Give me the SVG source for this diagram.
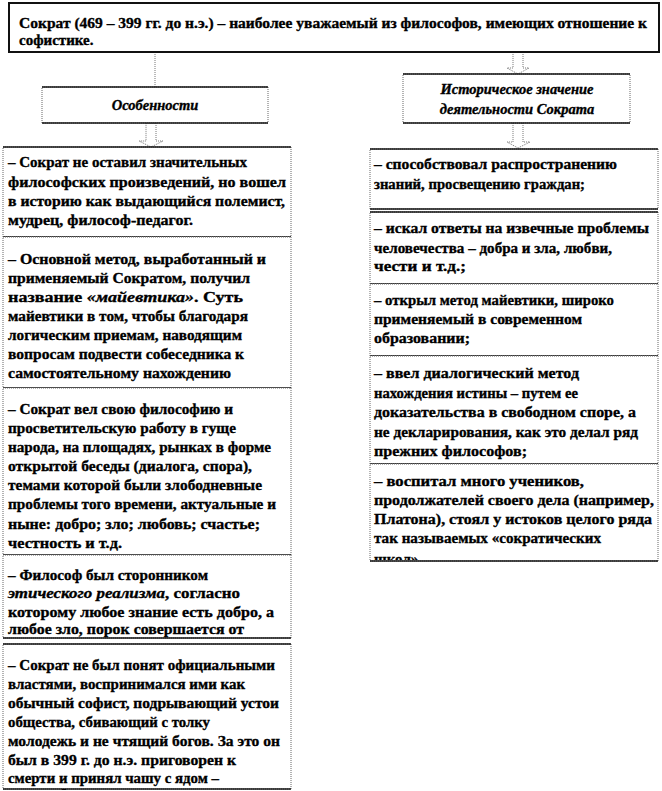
<svg xmlns="http://www.w3.org/2000/svg" width="662" height="791" viewBox="0 0 662 791">
<style>
  text { font-family: "Liberation Serif", "Times New Roman", "DejaVu Serif", serif; font-size: 15px; font-weight: bold; fill: #000; stroke: #000; stroke-width: 0.35; }
  .it { font-style: italic; }
  .hdr { font-style: italic; text-anchor: middle; font-size: 14.5px; }
  .bx { fill: #fff; stroke: #666; stroke-width: 1; stroke-dasharray: 1 1; }
  .hl { stroke: #111; stroke-width: 1.5; }
  .top { fill: #fff; stroke: #111; stroke-width: 2; }
  .arrow { fill: #fff; stroke: #777; stroke-width: 1; stroke-dasharray: 1 1; }
  .conn { stroke: #777; stroke-width: 1; stroke-dasharray: 1 1; fill: none; }
</style>
<defs>
  <clipPath id="clipR5"><rect x="370" y="464" width="288" height="96"/></clipPath>
  <clipPath id="clipL5"><rect x="3" y="644" width="288" height="144"/></clipPath>
</defs>
<rect width="662" height="791" fill="#fff"/>

<g id="connectors">
  <line class="conn" x1="155" y1="52" x2="155" y2="87"/>
  <path class="arrow" d="M513,52 H523 V68 H529 L518,74 L507,68 H513 Z"/>
  <path class="arrow" d="M146,123 H156 V141 H163 L151,147 L139,141 H146 Z"/>
  <path class="arrow" d="M513,123 H523 V142 H530 L518,148 L507,142 H513 Z"/>
</g>

<g id="title">
  <rect class="top" x="9" y="3" width="650" height="49"/>
  <text x="19" y="28" textLength="628" lengthAdjust="spacingAndGlyphs">Сократ  (469 – 399 гг. до н.э.) – наиболее уважаемый из философов, имеющих отношение к</text>
  <text x="19" y="45">софистике.</text>
</g>

<g id="features">
  <rect class="bx" x="42" y="87" width="226" height="36"/>
  <line class="hl" x1="42" y1="87" x2="268" y2="87"/>
  <line class="hl" x1="42" y1="123" x2="268" y2="123"/>
  <text class="hdr" x="155" y="110">Особенности</text>
</g>

<g id="significance">
  <rect class="bx" x="403" y="74" width="227" height="49"/>
  <line class="hl" x1="403" y1="74" x2="630" y2="74"/>
  <line class="hl" x1="403" y1="123" x2="630" y2="123"/>
  <text class="hdr" x="517" y="94">Историческое значение</text>
  <text class="hdr" x="517" y="114">деятельности Сократа</text>
</g>

<g id="left1">
  <rect class="bx" x="3" y="147" width="288" height="90"/>
  <line class="hl" x1="3" y1="147" x2="291" y2="147"/>
  <line class="hl" x1="3" y1="237" x2="291" y2="237"/>
  <text x="8" y="167" textLength="239" lengthAdjust="spacingAndGlyphs">– Сократ не оставил значительных</text>
  <text x="8" y="187" textLength="278" lengthAdjust="spacingAndGlyphs">философских  произведений, но вошел</text>
  <text x="8" y="206" textLength="277" lengthAdjust="spacingAndGlyphs">в историю как выдающийся полемист,</text>
  <text x="8" y="225" textLength="185" lengthAdjust="spacingAndGlyphs">мудрец, философ-педагог.</text>
</g>

<g id="left2">
  <rect class="bx" x="3" y="237" width="288" height="151"/>
  <line class="hl" x1="3" y1="388" x2="291" y2="388"/>
  <text x="8" y="264" textLength="258" lengthAdjust="spacingAndGlyphs">– Основной метод, выработанный и</text>
  <text x="8" y="283" textLength="242" lengthAdjust="spacingAndGlyphs">применяемый Сократом, получил</text>
  <text x="8" y="302" textLength="235" lengthAdjust="spacingAndGlyphs">название <tspan class="it">«майевтика»</tspan>. Суть</text>
  <text x="8" y="321" textLength="240" lengthAdjust="spacingAndGlyphs">майевтики в том, чтобы благодаря</text>
  <text x="8" y="340" textLength="234" lengthAdjust="spacingAndGlyphs">логическим приемам, наводящим</text>
  <text x="8" y="359" textLength="236" lengthAdjust="spacingAndGlyphs">вопросам подвести собеседника к</text>
  <text x="8" y="378" textLength="223" lengthAdjust="spacingAndGlyphs">самостоятельному нахождению</text>
</g>

<g id="left3">
  <rect class="bx" x="3" y="388" width="288" height="167"/>
  <line class="hl" x1="3" y1="555" x2="291" y2="555"/>
  <text x="8" y="414" textLength="225" lengthAdjust="spacingAndGlyphs">– Сократ вел свою философию и</text>
  <text x="8" y="433" textLength="228" lengthAdjust="spacingAndGlyphs">просветительскую работу в гуще</text>
  <text x="8" y="452" textLength="263" lengthAdjust="spacingAndGlyphs">народа, на площадях,  рынках в форме</text>
  <text x="8" y="471" textLength="244" lengthAdjust="spacingAndGlyphs">открытой беседы (диалога, спора),</text>
  <text x="8" y="490" textLength="254" lengthAdjust="spacingAndGlyphs">темами которой были злободневные</text>
  <text x="8" y="509" textLength="268" lengthAdjust="spacingAndGlyphs">проблемы того времени, актуальные  и</text>
  <text x="8" y="529" textLength="252" lengthAdjust="spacingAndGlyphs">ныне: добро; зло; любовь; счастье;</text>
  <text x="8" y="548" textLength="114" lengthAdjust="spacingAndGlyphs">честность и т.д.</text>
</g>

<g id="left4">
  <rect class="bx" x="3" y="555" width="288" height="83"/>
  <line class="hl" x1="3" y1="638" x2="291" y2="638"/>
  <text x="8" y="580" textLength="200" lengthAdjust="spacingAndGlyphs">– Философ был сторонником</text>
  <text x="8" y="598" textLength="232" lengthAdjust="spacingAndGlyphs"><tspan class="it">этического реализма</tspan>, согласно</text>
  <text x="8" y="617" textLength="266" lengthAdjust="spacingAndGlyphs">которому любое знание есть добро, а</text>
  <text x="8" y="634" textLength="236" lengthAdjust="spacingAndGlyphs">любое зло, порок совершается  от</text>
</g>

<g id="left5">
  <rect class="bx" x="3" y="644" width="288" height="145"/>
  <line class="hl" x1="3" y1="644" x2="291" y2="644"/>
  <line class="hl" x1="3" y1="789" x2="291" y2="789"/>
  <g clip-path="url(#clipL5)">
    <text x="8" y="670" textLength="267" lengthAdjust="spacingAndGlyphs">– Сократ не был понят официальными</text>
    <text x="8" y="689" textLength="237" lengthAdjust="spacingAndGlyphs">властями, воспринимался ими как</text>
    <text x="8" y="708" textLength="271" lengthAdjust="spacingAndGlyphs">обычный софист, подрывающий устои</text>
    <text x="8" y="727" textLength="202" lengthAdjust="spacingAndGlyphs">общества, сбивающий с толку</text>
    <text x="8" y="746" textLength="272" lengthAdjust="spacingAndGlyphs">молодежь и не чтящий богов. За это он</text>
    <text x="8" y="765" textLength="228" lengthAdjust="spacingAndGlyphs">был в 399 г. до н.э. приговорен к</text>
    <text x="8" y="783" textLength="211" lengthAdjust="spacingAndGlyphs">смерти и принял чашу  с ядом –</text>
  </g>
  <text x="62" y="791" style="font-size:6px">--</text>
</g>

<g id="right1">
  <rect class="bx" x="370" y="149" width="288" height="60"/>
  <line class="hl" x1="370" y1="149" x2="658" y2="149"/>
  <line class="hl" x1="370" y1="209" x2="658" y2="209"/>
  <text x="374" y="169" textLength="243" lengthAdjust="spacingAndGlyphs">– способствовал распространению</text>
  <text x="374" y="189" textLength="211" lengthAdjust="spacingAndGlyphs">знаний, просвещению граждан;</text>
</g>

<g id="right2">
  <rect class="bx" x="370" y="212" width="288" height="72"/>
  <line class="hl" x1="370" y1="212" x2="658" y2="212"/>
  <line class="hl" x1="370" y1="284" x2="658" y2="284"/>
  <text x="374" y="233" textLength="275" lengthAdjust="spacingAndGlyphs">– искал  ответы на извечные проблемы</text>
  <text x="374" y="253" textLength="238" lengthAdjust="spacingAndGlyphs">человечества – добра и зла, любви,</text>
  <text x="374" y="271" textLength="92" lengthAdjust="spacingAndGlyphs">чести и т.д.;</text>
</g>

<g id="right3">
  <rect class="bx" x="370" y="284" width="288" height="72"/>
  <line class="hl" x1="370" y1="356" x2="658" y2="356"/>
  <text x="374" y="305" textLength="240" lengthAdjust="spacingAndGlyphs">– открыл  метод майевтики, широко</text>
  <text x="374" y="324" textLength="208" lengthAdjust="spacingAndGlyphs">применяемый в современном</text>
  <text x="374" y="343" textLength="96" lengthAdjust="spacingAndGlyphs">образовании;</text>
</g>

<g id="right4">
  <rect class="bx" x="370" y="356" width="288" height="108"/>
  <line class="hl" x1="370" y1="464" x2="658" y2="464"/>
  <text x="374" y="378" textLength="205" lengthAdjust="spacingAndGlyphs">– ввел диалогический метод</text>
  <text x="374" y="398" textLength="204" lengthAdjust="spacingAndGlyphs">нахождения истины – путем ее</text>
  <text x="374" y="417" textLength="262" lengthAdjust="spacingAndGlyphs">доказательства в свободном споре, а</text>
  <text x="374" y="437" textLength="264" lengthAdjust="spacingAndGlyphs">не декларирования, как это делал ряд</text>
  <text x="374" y="456" textLength="153" lengthAdjust="spacingAndGlyphs">прежних философов;</text>
</g>

<g id="right5">
  <rect class="bx" x="370" y="464" width="288" height="97"/>
  <line class="hl" x1="370" y1="561" x2="658" y2="561"/>
  <g clip-path="url(#clipR5)">
    <text x="374" y="486" textLength="210" lengthAdjust="spacingAndGlyphs">– воспитал много учеников,</text>
    <text x="374" y="505" textLength="280" lengthAdjust="spacingAndGlyphs">продолжателей своего дела (например,</text>
    <text x="374" y="524" textLength="278" lengthAdjust="spacingAndGlyphs">Платона), стоял у истоков целого ряда</text>
    <text x="374" y="543" textLength="227" lengthAdjust="spacingAndGlyphs">так называемых «сократических</text>
    <text x="374" y="564">школ»</text>
  </g>
</g>
</svg>
